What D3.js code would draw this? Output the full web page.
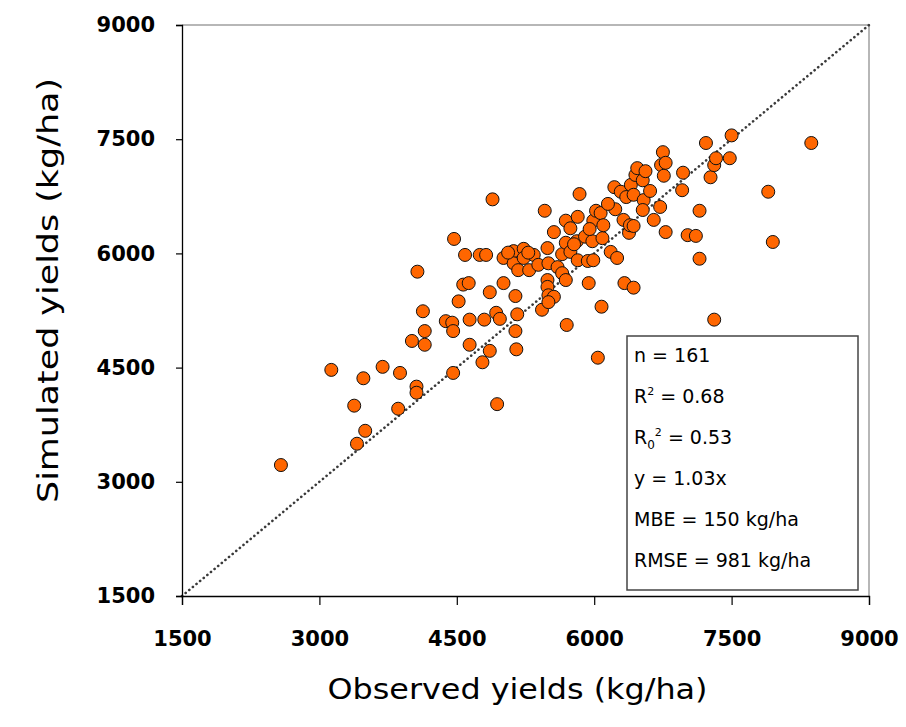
<!DOCTYPE html>
<html>
<head>
<meta charset="utf-8">
<script src="https://cdn.jsdelivr.net/npm/d3@7"></script>
<style>
  body { margin: 0; background: #fff; }
  text { font-family: "Comic Sans MS", "DejaVu Sans", sans-serif; }
</style>
</head>
<body>
<div id="chart"></div>
<script>
// observed (x) and simulated (y) yields, kg/ha
var observed = [
  2580, 3130, 3410, 3380, 3480, 3500, 3690, 3860, 3880, 4010,
  4060, 4060, 4070, 4130, 4150, 4150, 4380, 4450, 4460, 4460,
  4470, 4520, 4570, 4630, 4590, 4640, 4640, 4750, 4780, 4800,
  4820, 4860, 4860, 4890, 4930, 4940, 4970, 5010, 5010, 5120,
  5120, 5140, 5140, 5150, 5160, 5170, 5230, 5230, 5290, 5340,
  5390, 5430, 5460, 5490, 5500, 5490, 5490, 5500, 5560, 5500,
  5600, 5650, 5650, 5690, 5690, 5690, 5700, 5740, 5740, 5820,
  5810, 5820, 5840, 5900, 5930, 5940, 5980, 5990, 5990, 6020,
  6040, 6070, 6080, 6090, 6100, 6180, 6250, 6220, 6290, 6230,
  6320, 6330, 6350, 6380, 6390, 6400, 6430, 6430, 6430, 6450,
  6470, 6530, 6540, 6530, 6560, 6610, 6650, 6720, 6730, 6750,
  6760, 6780, 6780, 6960, 6970, 7020, 7110, 7150, 7150, 7220,
  7270, 7310, 7330, 7310, 7480, 7500, 7900, 7950, 8370,
  5060, 5280, 5560, 5950, 6150, 5780
];
var simulated = [
  3220, 4470, 3500, 4000, 4360, 3670, 4510, 3960, 4430, 4850,
  4250, 4170, 5760, 5240, 4980, 4800, 5110, 5090, 4980, 4430,
  6190, 5370, 5590, 5610, 5980, 5130, 4800, 5980, 4570, 5130,
  5980, 4720, 5490, 6710, 5220, 4020, 5140, 5610, 5940, 6030,
  5870, 5440, 4980, 4740, 5200, 5780, 6060, 5940, 5780, 5980,
  5850, 5260, 6560, 6070, 5870, 5650, 5560, 5450, 5430, 5360,
  5820, 5990, 5740, 6430, 6140, 5650, 5060, 6330, 6020, 6480,
  6160, 5910, 6780, 6220, 5900, 5610, 6160, 6430, 5910, 6560,
  4630, 6530, 5300, 6200, 6370, 6020, 5940, 6870, 6810, 6580,
  6440, 5610, 6740, 6270, 6370, 6900, 6770, 6360, 5550, 7030,
  7120, 6960, 6700, 6570, 7080, 6820, 6440, 6610, 7160, 7330,
  7020, 7190, 6280, 6830, 7060, 6240, 6230, 6560, 5930, 7450,
  7000, 7160, 7250, 5130, 7250, 7550, 6810, 6150, 7450,
  6010, 6010, 6280, 6320, 6650, 6120
];
var tickValues = [1500, 3000, 4500, 6000, 7500, 9000];
var statLines = [
  ["n = 161"],
  ["R", "2", " = 0.68"],
  ["R", "0", "2", " = 0.53"],
  ["y = 1.03x"],
  ["MBE = 150 kg/ha"],
  ["RMSE = 981 kg/ha"]
];

var margin = {top: 25, right: 37, bottom: 131, left: 182},
    width = 906 - margin.left - margin.right,
    height = 727 - margin.top - margin.bottom;

var svg = d3.select("#chart")
  .append("svg")
    .attr("width", 906)
    .attr("height", 727)
  .append("g")
    .attr("transform", "translate(" + margin.left + "," + margin.top + ")");

var x = d3.scaleLinear().domain([1500, 9000]).range([0, width]);
var y = d3.scaleLinear().domain([1500, 9000]).range([height, 0]);

// plot frame (top and right)
svg.append("path")
  .attr("d", "M0,0H" + width + "V" + height)
  .attr("fill", "none")
  .attr("stroke", "#a0a0a0")
  .attr("stroke-width", 1.5);

// 1:1 line
svg.append("line")
  .attr("x1", x(1500)).attr("y1", y(1500))
  .attr("x2", x(9000)).attr("y2", y(9000))
  .attr("stroke", "#3a3a3a")
  .attr("stroke-width", 2.6)
  .attr("stroke-linecap", "round")
  .attr("stroke-dasharray", "0.1,4.6");

// axes
var xAxis = svg.append("g")
  .attr("transform", "translate(0," + height + ")")
  .call(d3.axisBottom(x).tickValues(tickValues).tickFormat(d3.format("d")).tickSize(9).tickPadding(26));
var yAxis = svg.append("g")
  .call(d3.axisLeft(y).tickValues(tickValues).tickFormat(d3.format("d")).tickSize(6).tickPadding(21));

[xAxis, yAxis].forEach(function(a) {
  a.select(".domain").attr("stroke", "#000").attr("stroke-width", 1.3);
  a.selectAll(".tick line").attr("stroke", "#000").attr("stroke-width", 1.2);
  a.selectAll("text")
    .attr("fill", "#000")
    .style("font-size", "21px")
    .style("font-weight", "bold");
});

// points
svg.selectAll("mycircle")
  .data(observed)
  .enter()
  .append("circle")
    .attr("cx", function(d) { return x(d); })
    .attr("cy", function(d, i) { return y(simulated[i]); })
    .attr("r", 6.5)
    .style("fill", "#ff6600")
    .attr("stroke", "#111")
    .attr("stroke-width", 1);

// stats box
var box = svg.append("g").attr("transform", "translate(" + (627 - margin.left) + "," + (336 - margin.top) + ")");
box.append("rect")
  .attr("width", 231).attr("height", 254)
  .attr("fill", "#fff")
  .attr("stroke", "#444")
  .attr("stroke-width", 1.5);

statLines.forEach(function(parts, i) {
  var t = box.append("text")
    .attr("x", 7)
    .attr("y", 26 + i * 41)
    .style("font-size", "19px")
    .attr("fill", "#000");
  if (parts.length === 1) {
    t.append("tspan").text(parts[0]);
  } else if (parts.length === 3) {
    t.append("tspan").text(parts[0]);
    t.append("tspan").attr("dy", -8).style("font-size", "11px").text(parts[1]);
    t.append("tspan").attr("dy", 8).text(parts[2]);
  } else {
    t.append("tspan").text(parts[0]);
    t.append("tspan").attr("dy", 5).style("font-size", "12px").text(parts[1]);
    t.append("tspan").attr("dy", -13).style("font-size", "11px").text(parts[2]);
    t.append("tspan").attr("dy", 8).text(parts[3]);
  }
});

// axis titles
svg.append("text")
  .attr("x", width / 2 - 8)
  .attr("y", height + 103)
  .attr("text-anchor", "middle")
  .attr("textLength", 380)
  .attr("lengthAdjust", "spacingAndGlyphs")
  .style("font-size", "28px")
  .attr("fill", "#000")
  .text("Observed yields (kg/ha)");

svg.append("text")
  .attr("transform", "translate(" + (-124) + "," + (height / 2 - 20) + ")rotate(-90)")
  .attr("text-anchor", "middle")
  .attr("textLength", 425)
  .attr("lengthAdjust", "spacingAndGlyphs")
  .style("font-size", "28px")
  .attr("fill", "#000")
  .text("Simulated yields (kg/ha)");
</script>
</body>
</html>
